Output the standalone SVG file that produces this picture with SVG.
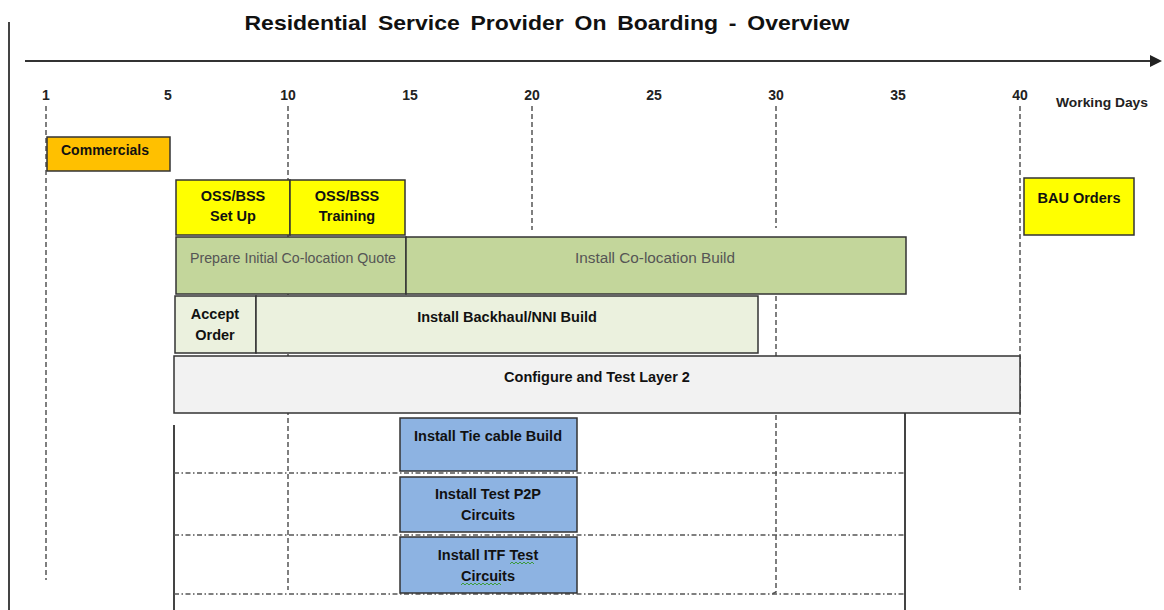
<svg xmlns="http://www.w3.org/2000/svg" width="1164" height="610" viewBox="0 0 1164 610">
<style>
text{font-family:"Liberation Sans",Arial,sans-serif;}
.t{font-size:21px;fill:#111;font-weight:bold;}
.tick{font-size:14px;font-weight:bold;fill:#222;text-anchor:middle;}
.lbl{font-size:14.5px;font-weight:bold;fill:#111;text-anchor:middle;}
.lbln{font-size:14px;fill:#555;text-anchor:middle;}
.box{stroke:#333;stroke-width:1.5;}
.dash{stroke:#555;stroke-width:1.5;stroke-dasharray:5,3;fill:none;}
.dd{stroke:#555;stroke-width:1.3;stroke-dasharray:5,2.5,1.5,2.5;fill:none;}
.solid{stroke:#444;stroke-width:2;fill:none;}
</style>
<defs>
<marker id="arr" markerWidth="6" markerHeight="6" refX="5" refY="3" orient="auto" markerUnits="strokeWidth">
<path d="M0,0 L6,3 L0,6 z" fill="#222"/>
</marker>
</defs>
<rect width="1164" height="610" fill="#fff"/>
<text class="t" x="547" y="30" text-anchor="middle" textLength="605" lengthAdjust="spacingAndGlyphs" word-spacing="4">Residential Service Provider On Boarding - Overview</text>
<g id="connectors">
<line class="solid" x1="9" y1="22" x2="9" y2="610"/>
<line x1="25" y1="61" x2="1160" y2="61" stroke="#333" stroke-width="2" marker-end="url(#arr)"/>
<line class="dash" x1="46" y1="106" x2="46" y2="580"/>
<line class="dash" x1="288" y1="106" x2="288" y2="590"/>
<line class="dash" x1="532" y1="106" x2="532" y2="230"/>
<line class="dash" x1="776" y1="106" x2="776" y2="228"/>
<line class="dash" x1="776" y1="296" x2="776" y2="356"/>
<polyline class="dash" points="776,415 776,592 772,594"/>
<line class="dash" x1="1020" y1="106" x2="1020" y2="590"/>
<line class="solid" x1="174" y1="425" x2="174" y2="610"/>
<line class="solid" x1="905" y1="413" x2="905" y2="610"/>
<line class="dd" x1="174" y1="473" x2="905" y2="473"/>
<line class="dd" x1="174" y1="535" x2="905" y2="535"/>
<line class="dd" x1="174" y1="594" x2="905" y2="594"/>
</g>
<g id="axis-labels">
<text class="tick" x="46" y="100">1</text>
<text class="tick" x="168" y="100">5</text>
<text class="tick" x="288" y="100">10</text>
<text class="tick" x="410" y="100">15</text>
<text class="tick" x="532" y="100">20</text>
<text class="tick" x="654" y="100">25</text>
<text class="tick" x="776" y="100">30</text>
<text class="tick" x="898" y="100">35</text>
<text class="tick" x="1020" y="100">40</text>
<text x="1102" y="107" font-size="12.5" font-weight="bold" fill="#222" text-anchor="middle" textLength="92" lengthAdjust="spacingAndGlyphs">Working Days</text>
</g>
<g id="commercials">
<rect class="box" x="47" y="137" width="123" height="34" fill="#FFC000"/>
<text class="lbl" x="105" y="155" textLength="88" lengthAdjust="spacingAndGlyphs">Commercials</text>
</g>
<g id="oss-setup">
<rect class="box" x="176" y="180" width="114" height="55" fill="#FFFF00"/>
<text class="lbl" x="233" y="201">OSS/BSS</text>
<text class="lbl" x="233" y="221">Set Up</text>
</g>
<g id="oss-training">
<rect class="box" x="290" y="180" width="115" height="55" fill="#FFFF00"/>
<text class="lbl" x="347" y="201">OSS/BSS</text>
<text class="lbl" x="347" y="221">Training</text>
</g>
<g id="bau-orders">
<rect class="box" x="1024" y="178" width="110" height="57" fill="#FFFF00"/>
<text class="lbl" x="1079" y="203">BAU Orders</text>
</g>
<g id="prepare-quote">
<rect class="box" x="176" y="237" width="230" height="57" fill="#C3D69B"/>
<text class="lbln" x="293" y="263" textLength="206" lengthAdjust="spacingAndGlyphs">Prepare Initial Co-location Quote</text>
</g>
<g id="install-colocation">
<rect class="box" x="406" y="237" width="500" height="57" fill="#C3D69B"/>
<text class="lbln" x="655" y="263" textLength="160" lengthAdjust="spacingAndGlyphs">Install Co-location Build</text>
</g>
<g id="accept-order">
<rect class="box" x="175" y="296" width="81" height="57" fill="#EBF1DE"/>
<text class="lbl" x="215" y="319">Accept</text>
<text class="lbl" x="215" y="340">Order</text>
</g>
<g id="install-backhaul">
<rect class="box" x="256" y="296" width="502" height="57" fill="#EBF1DE"/>
<text class="lbl" x="507" y="322">Install Backhaul/NNI Build</text>
</g>
<g id="configure-layer2">
<rect class="box" x="174" y="356" width="846" height="57" fill="#F2F2F2"/>
<text class="lbl" x="597" y="382">Configure and Test Layer 2</text>
</g>
<g id="tie-cable">
<rect class="box" x="400" y="418" width="177" height="53" fill="#8DB3E2"/>
<text class="lbl" x="488" y="441">Install Tie cable Build</text>
</g>
<g id="test-p2p">
<rect class="box" x="400" y="477" width="177" height="55" fill="#8DB3E2"/>
<text class="lbl" x="488" y="499">Install Test P2P</text>
<text class="lbl" x="488" y="520">Circuits</text>
</g>
<g id="itf-test">
<rect class="box" x="400" y="537" width="177" height="56" fill="#8DB3E2"/>
<text class="lbl" x="488" y="560">Install ITF Test</text>
<text class="lbl" x="488" y="581">Circuits</text>
<path d="M510,564 l2,-2 l2,2 l2,-2 l2,2 l2,-2 l2,2 l2,-2 l2,2 l2,-2 l2,2 l2,-2 l2,2 M461,585 l2,-2 l2,2 l2,-2 l2,2 l2,-2 l2,2 l2,-2 l2,2 l2,-2 l2,2 l2,-2 l2,2 l2,-2 l2,2 l2,-2 l2,2 l2,-2 l2,2 l2,-2 l2,2" fill="none" stroke="#3C9A3C" stroke-width="1"/>
</g>
</svg>
